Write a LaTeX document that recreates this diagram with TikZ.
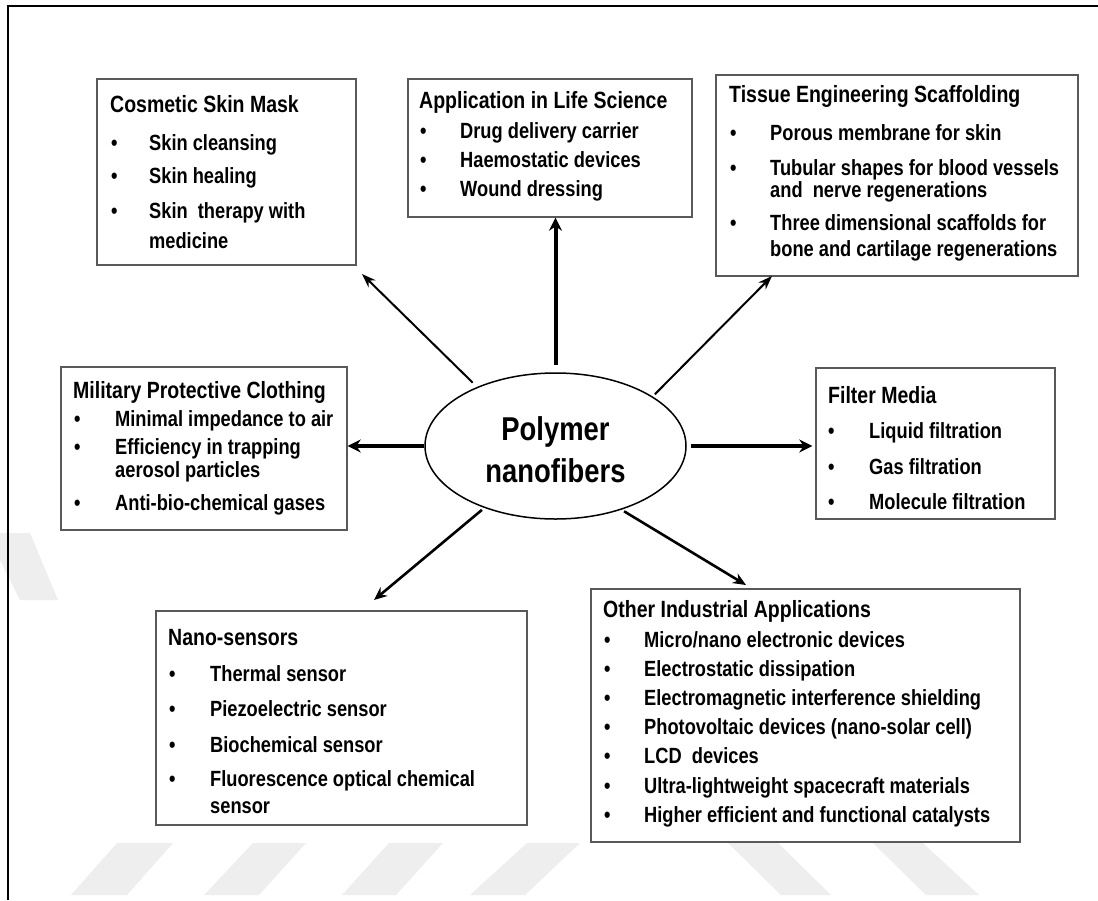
\documentclass[tikz,border=0pt]{standalone}
\usepackage{fontspec}
\setmainfont{Liberation Sans}[FakeStretch=0.83]
\usetikzlibrary{arrows.meta,shapes.geometric}
\definecolor{wm}{gray}{0.935}
\definecolor{boxline}{gray}{0.35}
\newcommand\ttlfont{\fontsize{23.5}{28}\selectfont\bfseries}
\newcommand\txtfont{\fontsize{22}{26}\selectfont\bfseries}
\newcommand\bigfont{\fontsize{33}{40}\selectfont\bfseries}
\newcommand\bitem[5]{\node[bul] (#1b) at (#2,#4) {\textbullet}; \node[txt] (#1) at (#3,#4) {#5};}
\begin{document}
\begin{tikzpicture}[x=1pt,y=-1pt,
  box/.style={draw=boxline, line width=1.4pt, rectangle, inner sep=0pt},
  ttl/.style={anchor=base west, inner sep=0pt, font=\ttlfont},
  txt/.style={anchor=base west, inner sep=0pt, font=\txtfont},
  bul/.style={anchor=base west, inner sep=0pt, font=\txtfont},
  big/.style={anchor=base, inner sep=0pt, font=\bigfont},
  thick arrow/.style={line width=4pt, -{Stealth[length=13pt,width=13pt]}},
  thin arrow/.style={line width=2pt, -{Stealth[length=14pt,width=10pt]}},
  mid arrow/.style={line width=2.6pt, -{Stealth[length=13pt,width=11pt]}},
  wmark/.style={fill=wm, draw=none}]
\useasboundingbox (0,0) rectangle (1098,900);
\fill[white] (0,0) rectangle (1098,900);
% watermark
\fill[wmark] (117,843) -- (173,843) -- (127,895) -- (71,895) -- cycle;
\fill[wmark] (253,843) -- (306,843) -- (259,895) -- (204,895) -- cycle;
\fill[wmark] (389,843) -- (443,843) -- (396,895) -- (342,895) -- cycle;
\fill[wmark] (527,843) -- (580,843) -- (525,895) -- (470,895) -- cycle;
\fill[wmark] (728,843) -- (778,843) -- (831,895) -- (781,895) -- cycle;
\fill[wmark] (873,843) -- (923,843) -- (979,895) -- (926,895) -- cycle;
\fill[wmark] (0,533) -- (30,533) -- (58,600) -- (20,600) -- (0,560) -- cycle;
% frame
\draw[line width=1.6pt] (8,900) -- (8,6) -- (1098,6);
% boxes
\node[box, minimum width=259pt, minimum height=186pt] (cos) at (226.5,172) {};
\node[box, minimum width=284pt, minimum height=138pt] (life) at (550,148) {};
\node[box, minimum width=362pt, minimum height=201pt] (tis) at (897,175.5) {};
\node[box, minimum width=286pt, minimum height=163pt] (mil) at (204,448.5) {};
\node[box, minimum width=239pt, minimum height=151pt] (fil) at (935.5,443.5) {};
\node[box, minimum width=371pt, minimum height=214pt] (nano) at (341.5,718) {};
\node[box, minimum width=429pt, minimum height=253pt] (oth) at (805.5,715.5) {};
% centre
\node[draw, ellipse, line width=1.5pt, minimum width=261pt, minimum height=146pt, inner sep=0pt] (poly) at (555.5,446) {};
\node[big] (polyA) at (555.5,440) {Polymer};
\node[big] (polyB) at (555.5,482) {nanofibers};
% Cosmetic
\node[ttl] (cosT) at (110,112) {Cosmetic Skin Mask};
\bitem{cosA}{111}{149}{150}{Skin cleansing}
\bitem{cosB}{111}{149}{183}{Skin healing}
\bitem{cosC}{111}{149}{218}{Skin~ therapy with}
\node[txt] (cosD) at (149,248) {medicine};
% Life
\node[ttl] (lifeT) at (419,108) {Application in Life Science};
\bitem{lifeA}{420}{460}{138}{Drug delivery carrier}
\bitem{lifeB}{420}{460}{167}{Haemostatic devices}
\bitem{lifeC}{420}{460}{196}{Wound dressing}
% Tissue
\node[ttl] (tisT) at (729,102) {Tissue Engineering Scaffolding};
\bitem{tisA}{730}{770}{140}{Porous membrane for skin}
\bitem{tisB}{730}{770}{175}{Tubular shapes for blood vessels}
\node[txt] (tisC) at (770,197) {and~ nerve regenerations};
\bitem{tisD}{730}{770}{230}{Three dimensional scaffolds for}
\node[txt] (tisE) at (770,256) {bone and cartilage regenerations};
% Military
\node[ttl] (milT) at (73,398) {Military Protective Clothing};
\bitem{milA}{74}{115}{426}{Minimal impedance to air}
\bitem{milB}{74}{115}{454}{Efficiency in trapping}
\node[txt] (milC) at (115,477) {aerosol particles};
\bitem{milD}{74}{115}{510}{Anti-bio-chemical gases}
% Filter
\node[ttl] (filT) at (828,403) {Filter Media};
\bitem{filA}{828}{869}{438}{Liquid filtration}
\bitem{filB}{828}{869}{474}{Gas filtration}
\bitem{filC}{828}{869}{509}{Molecule filtration}
% Nano
\node[ttl] (nanoT) at (168,645) {Nano-sensors};
\bitem{nanoA}{169}{210}{681}{Thermal sensor}
\bitem{nanoB}{169}{210}{716}{Piezoelectric sensor}
\bitem{nanoC}{169}{210}{752}{Biochemical sensor}
\bitem{nanoD}{169}{210}{786}{Fluorescence optical chemical}
\node[txt] (nanoE) at (210,813) {sensor};
% Other
\node[ttl] (othT) at (603,617) {Other Industrial Applications};
\bitem{othA}{604}{644}{647}{Micro/nano electronic devices}
\bitem{othB}{604}{644}{676}{Electrostatic dissipation}
\bitem{othC}{604}{644}{705}{Electromagnetic interference shielding}
\bitem{othD}{604}{644}{734}{Photovoltaic devices (nano-solar cell)}
\bitem{othE}{604}{644}{763}{LCD~ devices}
\bitem{othF}{604}{644}{793}{Ultra-lightweight spacecraft materials}
\bitem{othG}{604}{644}{822}{Higher efficient and functional catalysts}
% arrow free ends
\coordinate (tipCos) at (362,274);
\coordinate (tipTis) at (772,276);
\coordinate (tipNano) at (374,600);
\coordinate (tipOth) at (746,585);
% connectors
\draw[thick arrow, shorten <=7pt] (poly.north) -- (poly.north |- life.south);
\draw[thick arrow] (poly.west) -- (poly.west -| mil.east);
\draw[thick arrow, shorten <=4pt, shorten >=3pt] (poly.east) -- (poly.east -| fil.west);
\draw[thin arrow, shorten <=6pt] (poly.143.8) -- (tipCos);
\draw[thin arrow, shorten <=3pt] (poly.27.6) -- (tipTis);
\draw[mid arrow, shorten <=3pt] (poly.221.8) -- (tipNano);
\draw[mid arrow, shorten <=3pt] (poly.316.4) -- (tipOth);
\end{tikzpicture}
\end{document}
